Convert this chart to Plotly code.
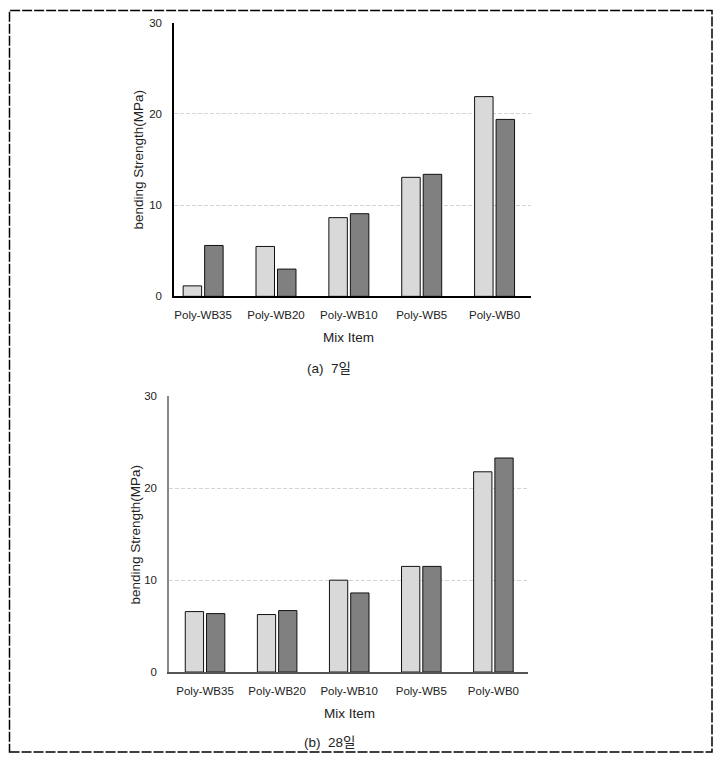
import plotly.graph_objects as go

categories = ["Poly-WB35", "Poly-WB20", "Poly-WB10", "Poly-WB5", "Poly-WB0"]
day7_light = [1.15, 5.47, 8.63, 13.05, 21.9]
day7_dark = [5.58, 2.99, 9.06, 13.38, 19.4]
day28_light = [6.58, 6.26, 10.0, 11.5, 21.8]
day28_dark = [6.36, 6.69, 8.61, 11.5, 23.3]
y_ticks = [0, 10, 20, 30]
y_title = "bending Strength(MPa)"
x_title = "Mix Item"
captions = ["(a)  7일", "(b)  28일"]

W, H = 722, 762
LIGHT = "#d9d9d9"
DARK = "#808080"
TICKFONT = dict(family="Liberation Sans, Noto Sans CJK KR", size=11.5, color="#222")
TITLEFONT = dict(family="Liberation Sans, Noto Sans CJK KR", size=13.5, color="#222")
YTITLEFONT = dict(family="Liberation Sans, Noto Sans", size=13.5, color="#222")
CAPFONT = dict(family="Liberation Sans, Noto Sans CJK KR", size=13.5, color="#222")

fig = go.Figure()

def px(x):
    return x / W

def py(y):
    return 1 - y / H

for light, dark, xa, ya in [(day7_light, day7_dark, "x", "y"), (day28_light, day28_dark, "x2", "y2")]:
    fig.add_trace(go.Bar(x=list(range(len(categories))), y=light, marker=dict(color=LIGHT, line=dict(color="#111", width=1)),
                         xaxis=xa, yaxis=ya, showlegend=False))
    fig.add_trace(go.Bar(x=list(range(len(categories))), y=dark, marker=dict(color=DARK, line=dict(color="#111", width=1)),
                         xaxis=xa, yaxis=ya, showlegend=False))

common_x = dict(tickmode="array", tickvals=list(range(len(categories))), ticktext=categories,
                tickfont=TICKFONT, showgrid=False, ticks="", zeroline=False, showline=True,
                ticklabelstandoff=7)
common_y = dict(range=[0, 30], tickvals=y_ticks, tickfont=TICKFONT, showgrid=True,
                gridcolor="#d4d4d4", griddash="4px,2px", gridwidth=1, zeroline=False, showline=True,
                ticks="", ticklabelstandoff=8)

def ann(text, x, y, font, angle=0):
    return dict(text=text, xref="paper", yref="paper", x=px(x), y=py(y), showarrow=False,
                xanchor="center", yanchor="middle", textangle=angle, font=font)

fig.update_layout(
    width=W, height=H, margin=dict(l=0, r=0, t=0, b=0),
    paper_bgcolor="white", plot_bgcolor="white",
    barmode="group", bargap=0.41, bargroupgap=0.14,
    xaxis=dict(common_x, domain=[px(174), px(531)], range=[-0.40, 4.50], anchor="y", linecolor="#000", linewidth=1.5),
    yaxis=dict(common_y, domain=[py(295), py(17)], anchor="x", linecolor="#000", linewidth=1.5),
    xaxis2=dict(common_x, domain=[px(169), px(528)], range=[-0.50, 4.48], anchor="y2", linecolor="#555", linewidth=1.5),
    yaxis2=dict(common_y, domain=[py(676.7), py(396.7)], anchor="x2", linecolor="#888", linewidth=1.5),
    shapes=[dict(type="rect", xref="paper", yref="paper", x0=px(9.5), x1=px(712), y0=py(758), y1=py(4.5),
                 line=dict(color="#000", width=1.5, dash="10px,2px"))],
    annotations=[
        ann(x_title, 348, 337, TITLEFONT),
        ann(x_title, 349, 719, TITLEFONT),
        ann(y_title, 139, 156, YTITLEFONT, -90),
        ann(y_title, 136, 537, YTITLEFONT, -90),
        ann(captions[0], 329, 368, CAPFONT),
        ann(captions[1], 329, 748, CAPFONT),
    ],
)

fig.write_html("out.html", config={"displayModeBar": False},
               post_script="document.body.style.margin='0';document.body.style.overflow='hidden';")
